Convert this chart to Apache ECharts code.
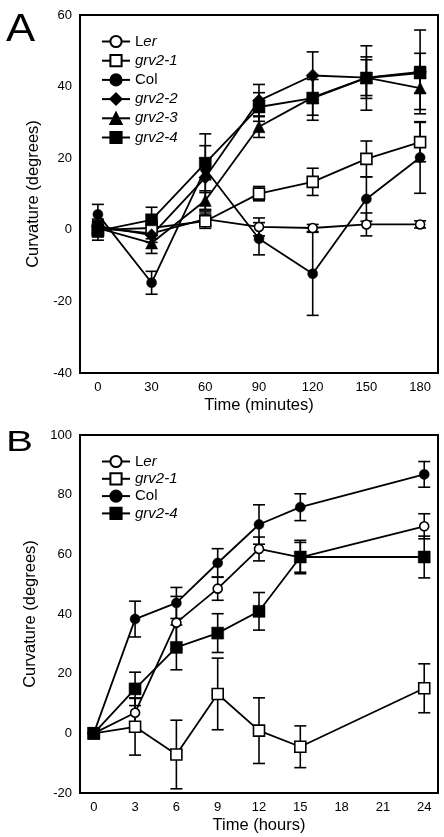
<!DOCTYPE html>
<html>
<head>
<meta charset="utf-8">
<script src="https://cdn.jsdelivr.net/npm/echarts@6/dist/echarts.min.js"></script>
<style>
html,body{margin:0;padding:0;background:#fff;}
#chart{width:444px;height:837px;}
</style>
</head>
<body>
<div id="chart"></div>
<script>
// ---------- Data ----------
const timesA = [0, 30, 60, 90, 120, 150, 180];
const tickLabelsA = [0, 30, 60, 90, 120, 150, 180];
const lerA   = [0.5, -1, 3, 0.8, 0.5, 1.5, 1.5];
const lerAErr = [1.5, 1.5, 2, 2.5, 1, 3.2, 1];
const grv21A = [0, 0.5, 2.4, 10.1, 13.4, 19.8, 24.5];
const grv21AErr = [2, 2, 2, 2, 3.8, 5, 5.5];
const colA   = [4.3, -14.8, 17, -2.5, -12.3, 8.6, 20.2];
const colAErr = [2.8, 3.2, 3, 4.5, 11.6, 6.2, 10];
const grv22A = [1, -1.5, 14.6, 36.1, 43.1, 42.5, 44.1];
const grv22AErr = [2, 2, 8.9, 4.5, 6.6, 5.8, 11.7];
const grv23A = [0.5, -3.7, 8.2, 28.8, 37, 42.5, 39.6];
const grv23AErr = [2, 2.9, 2.7, 3, 5, 5, 6];
const grv24A = [-0.3, 2.8, 18.6, 34.3, 36.8, 42.4, 43.8];
const grv24AErr = [2.6, 3.5, 8.2, 4, 6.2, 9, 5.5];

const timesB = [0, 3, 6, 9, 12, 15, 24];
const tickLabelsB = [0, 3, 6, 9, 12, 15, 18, 21, 24];
const lerB   = [0, 6.9, 37.1, 48.5, 61.8, 59, 69.4];
const lerBErr = [0, 5, 8.8, 3.9, 4, 5, 4.2];
const grv21B = [0, 2.2, -7.1, 13.2, 0.9, -4.5, 15.1];
const grv21BErr = [0, 9.5, 11.5, 12, 11, 7, 8.2];
const colB   = [0, 38.3, 43.7, 57.1, 70, 75.8, 86.8];
const colBErr = [0, 6, 5.2, 4.8, 6.6, 4.5, 4.3];
const grv24B = [0, 14.9, 28.8, 33.6, 40.9, 59.1, 59.1];
const grv24BErr = [0, 5.6, 7.5, 6.5, 6.3, 5.6, 7];

const namesA = ['Ler', 'grv2-1', 'Col', 'grv2-2', 'grv2-3', 'grv2-4'];
const namesB = ['Ler', 'grv2-1', 'Col', 'grv2-4'];

// ---------- Styles ----------
const FONT = '"Liberation Sans", Arial, Helvetica, sans-serif';
const markerStyle = {
  'Ler':    {symbol: 'circle', size: 9, fill: '#fff'},
  'grv2-1': {symbol: 'rect', size: 11, fill: '#fff'},
  'Col':    {symbol: 'circle', size: 10, fill: '#000'},
  'grv2-2': {symbol: 'diamond', size: 13, fill: '#000'},
  'grv2-3': {symbol: 'triangle', size: 12, fill: '#000'},
  'grv2-4': {symbol: 'rect', size: 12, fill: '#000'}
};

function lineSeries(name, times, vals, idx) {
  const m = markerStyle[name];
  return {
    type: 'line', name: name, xAxisIndex: idx, yAxisIndex: idx,
    data: times.map((t, i) => [t, vals[i]]),
    symbol: m.symbol, symbolSize: m.size, showSymbol: true,
    lineStyle: {color: '#000', width: 1.8},
    itemStyle: {color: m.fill, borderColor: '#000', borderWidth: m.fill === '#fff' ? 1.6 : 0.5},
    z: 3, animation: false
  };
}

function errSeries(name, times, vals, errs, idx) {
  return {
    type: 'custom', name: name + ' err', xAxisIndex: idx, yAxisIndex: idx,
    data: times.map((t, i) => [t, vals[i] - errs[i], vals[i] + errs[i]]),
    renderItem: function (params, api) {
      const x = api.value(0);
      const lo = api.coord([x, api.value(1)]);
      const hi = api.coord([x, api.value(2)]);
      const hw = 6;
      const st = {stroke: '#000', lineWidth: 1.6};
      return {
        type: 'group',
        children: [
          {type: 'line', shape: {x1: lo[0], y1: lo[1], x2: hi[0], y2: hi[1]}, style: st},
          {type: 'line', shape: {x1: lo[0] - hw, y1: lo[1], x2: lo[0] + hw, y2: lo[1]}, style: st},
          {type: 'line', shape: {x1: hi[0] - hw, y1: hi[1], x2: hi[0] + hw, y2: hi[1]}, style: st}
        ]
      };
    },
    z: 2, silent: true, animation: false, tooltip: {show: false}
  };
}

const seriesList = [];
const dataA = {'Ler': [lerA, lerAErr], 'grv2-1': [grv21A, grv21AErr], 'Col': [colA, colAErr],
  'grv2-2': [grv22A, grv22AErr], 'grv2-3': [grv23A, grv23AErr], 'grv2-4': [grv24A, grv24AErr]};
const dataB = {'Ler': [lerB, lerBErr], 'grv2-1': [grv21B, grv21BErr], 'Col': [colB, colBErr], 'grv2-4': [grv24B, grv24BErr]};
namesA.forEach(n => { seriesList.push(errSeries(n, timesA, dataA[n][0], dataA[n][1], 0)); });
namesA.forEach(n => { seriesList.push(lineSeries(n, timesA, dataA[n][0], 0)); });
namesB.forEach(n => { seriesList.push(errSeries(n, timesB, dataB[n][0], dataB[n][1], 1)); });
namesB.forEach(n => { seriesList.push(lineSeries(n, timesB, dataB[n][0], 1)); });

function legendFmt(name) {
  if (name === 'Ler') return '{n|L}{i|er}';
  if (name === 'Col') return '{n|Col}';
  return '{i|' + name + '}';
}
const legendText = {
  color: '#000', fontSize: 15, fontFamily: FONT, lineHeight: 15,
  rich: {
    n: {fontSize: 15, fontFamily: FONT, color: '#000', fontStyle: 'normal', lineHeight: 15},
    i: {fontSize: 15, fontFamily: FONT, color: '#000', fontStyle: 'italic', lineHeight: 15}
  }
};

function xAxisCfg(idx, min, max, labels, name, nameGap) {
  return {
    type: 'value', gridIndex: idx, min: min, max: max,
    name: name, nameLocation: 'middle', nameGap: nameGap,
    nameTextStyle: {fontSize: 16.5, fontFamily: FONT, color: '#000'},
    axisLine: {show: false}, axisTick: {show: false}, splitLine: {show: false},
    axisLabel: {customValues: labels, fontSize: 13, fontFamily: FONT, color: '#000', margin: 8}
  };
}
function yAxisCfg(idx, min, max) {
  return {
    type: 'value', gridIndex: idx, min: min, max: max, interval: 20,
    name: 'Curvature (degrees)', nameLocation: 'middle', nameGap: 31,
    nameTextStyle: {fontSize: 16.5, fontFamily: FONT, color: '#000'},
    axisLine: {show: false}, axisTick: {show: false}, splitLine: {show: false},
    axisLabel: {fontSize: 13, fontFamily: FONT, color: '#000', margin: 8}
  };
}

const option = {
  backgroundColor: '#fff',
  animation: false,
  grid: [
    {left: 80, top: 15, width: 358, height: 358, show: true, borderColor: '#000', borderWidth: 2, backgroundColor: 'transparent'},
    {left: 80, top: 435, width: 358, height: 358, show: true, borderColor: '#000', borderWidth: 2, backgroundColor: 'transparent'}
  ],
  xAxis: [
    xAxisCfg(0, -10, 190, tickLabelsA, 'Time (minutes)', 24),
    xAxisCfg(1, -1, 25, tickLabelsB, 'Time (hours)', 24)
  ],
  yAxis: [yAxisCfg(0, -40, 60), yAxisCfg(1, -20, 100)],
  legend: [
    {data: namesA, orient: 'vertical', left: 101, top: 34, padding: 0, itemWidth: 28, itemHeight: 14, itemGap: 4.2,
     formatter: legendFmt, textStyle: legendText, selectedMode: false},
    {data: namesB, orient: 'vertical', left: 101, top: 454, padding: 0, itemWidth: 28, itemHeight: 14, itemGap: 2.3,
     formatter: legendFmt, textStyle: legendText, selectedMode: false}
  ],
  graphic: [
    {type: 'text', x: 6, y: 12, scaleX: 1.15, style: {text: 'A', fontSize: 38, fontFamily: FONT, fill: '#000', verticalAlign: 'top'}},
    {type: 'text', x: 6, y: 428, scaleX: 1.35, style: {text: 'B', fontSize: 30, fontFamily: FONT, fill: '#000', verticalAlign: 'top'}}
  ],
  series: seriesList
};

const chart = echarts.init(document.getElementById('chart'), null, {renderer: 'canvas'});
chart.setOption(option);
</script>
</body>
</html>
